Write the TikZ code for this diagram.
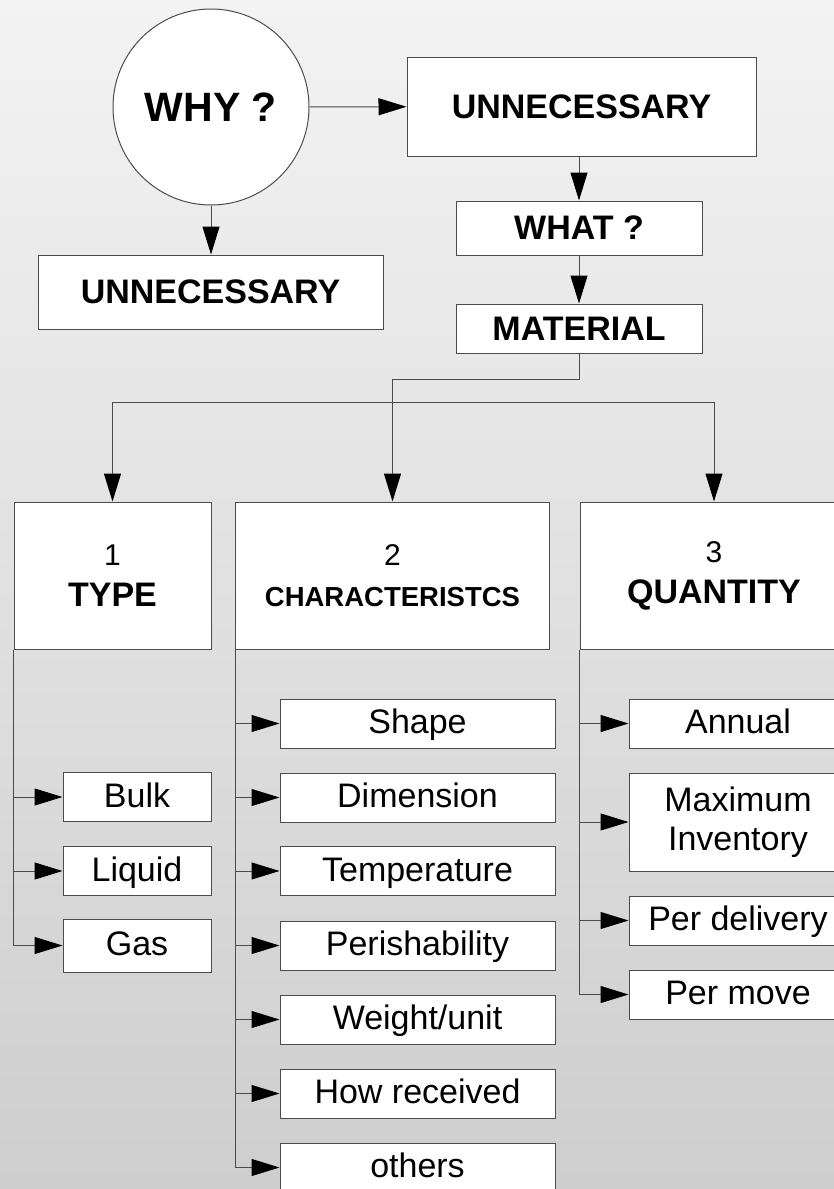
\documentclass[tikz,border=0pt]{standalone}
\usepackage{fontspec}
\setmainfont{Liberation Sans}
\usetikzlibrary{arrows.meta}
\definecolor{linegray}{RGB}{75,75,75}
\definecolor{bgtop}{RGB}{243,243,243}
\definecolor{bgbottom}{RGB}{206,206,206}

\begin{document}
\begin{tikzpicture}[x=1pt,y=-1pt,
  box/.style={draw=linegray,fill=white,line width=1pt,inner sep=0pt,align=center},
  arr/.style={draw=linegray,line width=1pt,-{Triangle[length=28pt,width=17pt,color=black]}},
  big/.style={font=\fontsize{34}{40}\selectfont\bfseries},
  head/.style={box,minimum height=147pt,font=\fontsize{30}{41}\selectfont},
  item/.style={box,minimum height=49pt,text height=27pt,text depth=7pt,font=\fontsize{34}{38}\selectfont}]
\shade [top color=bgtop,bottom color=bgbottom] (0,0) rectangle (834,1189);
\useasboundingbox (0,0) rectangle (834,1189);
\clip (0,0) rectangle (834,1189);
\node [box,circle,minimum size=196pt,font=\fontsize{41}{48}\selectfont\bfseries] (why) at (211,107) {WHY ?};
\node [box,big,minimum width=349pt,minimum height=99pt] (unr) at (581.5,106.5) {UNNECESSARY};
\node [box,big,minimum width=246pt,minimum height=54pt] (what) at (579,228) {WHAT ?};
\node [box,big,minimum width=246pt,minimum height=49pt] (mat) at (579,328.5) {MATERIAL};
\node [box,big,minimum width=345pt,minimum height=74pt] (unl) at (210.5,292) {UNNECESSARY};
\node [head,minimum width=197pt] (type) at (112.5,575.5) {1\\{\fontsize{34}{41}\selectfont\bfseries TYPE}};
\node [head,minimum width=314pt] (char) at (392.5,575.5) {2\\{\fontsize{27.5}{41}\selectfont\bfseries CHARACTERISTCS}};
\node [head,minimum width=268pt] (quan) at (714,575.5) {3\\{\fontsize{34}{41}\selectfont\bfseries QUANTITY}};
\node [item,minimum width=148pt] (bulk) at (137,797) {Bulk};
\node [item,minimum width=148pt] (liquid) at (137,871) {Liquid};
\node [item,minimum width=148pt,minimum height=53pt] (gas) at (137,945.5) {Gas};
\node [item,minimum width=275pt] (shape) at (417.5,723.5) {Shape};
\node [item,minimum width=275pt] (dim) at (417.5,797.5) {Dimension};
\node [item,minimum width=275pt] (temp) at (417.5,871) {Temperature};
\node [item,minimum width=275pt] (perish) at (417.5,945.5) {Perishability};
\node [item,minimum width=275pt] (weight) at (417.5,1019.5) {Weight/unit};
\node [item,minimum width=275pt] (how) at (417.5,1093.5) {How received};
\node [item,minimum width=275pt] (others) at (417.5,1167.5) {others};
\node [item,minimum width=218pt] (annual) at (738,723.5) {Annual};
\node [box,minimum width=218pt,minimum height=98pt,font=\fontsize{34}{38.5}\selectfont] (maxinv) at (738,822) {Maximum\\Inventory};
\node [item,minimum width=218pt] (perdel) at (738,920.5) {Per delivery};
\node [item,minimum width=218pt] (permove) at (738,994.5) {Per move};
\draw [arr] (why) -- (unr);
\draw [arr] (why.south) -- (why.south |- unl.north);
\draw [arr] (what.north |- unr.south) -- (what.north);
\draw [arr] (what) -- (mat);
\draw [arr] (mat.south) -- ++(0,26) -| (char.north);
\coordinate (fork) at (392.5,402.7);
\draw [arr] (fork) -| (type.north);
\draw [arr] (fork) -| (quan.north);
\draw [arr] (type.south west) |- (bulk.west);
\draw [arr] (type.south west) |- (liquid.west);
\draw [arr] (type.south west) |- (gas.west);
\draw [arr] (char.south west) |- (shape.west);
\draw [arr] (char.south west) |- (dim.west);
\draw [arr] (char.south west) |- (temp.west);
\draw [arr] (char.south west) |- (perish.west);
\draw [arr] (char.south west) |- (weight.west);
\draw [arr] (char.south west) |- (how.west);
\draw [arr] (char.south west) |- (others.west);
\draw [arr] (quan.south west) |- (annual.west);
\draw [arr] (quan.south west) |- (maxinv.west);
\draw [arr] (quan.south west) |- (perdel.west);
\draw [arr] (quan.south west) |- (permove.west);
\end{tikzpicture}
\end{document}
